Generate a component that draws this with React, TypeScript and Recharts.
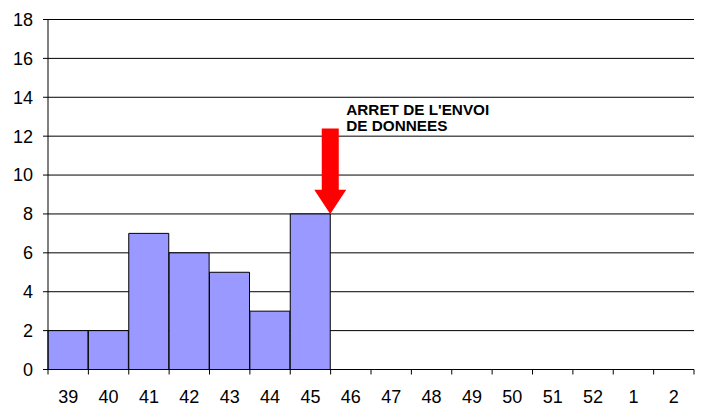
import React from 'react';
import { BarChart, Bar, XAxis, YAxis, CartesianGrid, LabelList } from 'recharts';

const weeks = ['39', '40', '41', '42', '43', '44', '45', '46', '47', '48', '49', '50', '51', '52', '1', '2'];
const counts = [2, 2, 7, 6, 5, 3, 8, 0, 0, 0, 0, 0, 0, 0, 0, 0];
const yTicks = [0, 2, 4, 6, 8, 10, 12, 14, 16, 18];
const annotationLines = ["ARRET DE L'ENVOI", 'DE DONNEES'];
const arrowWeek = '45';
const arrowTopValue = 12.4;
const arrowHeadValue = 9.25;

const data = weeks.map((w, i) => ({ week: w, count: counts[i] }));

const FONT = '"Liberation Sans", Arial, sans-serif';
const CHART_W = 702;
const CHART_H = 408;
const Y_AXIS_W = 48;
const MARGIN_RIGHT = 8;
const X_TICK_SIZE = 5;
const X_TICK_MARGIN = 16;
const BAND = (CHART_W - Y_AXIS_W - MARGIN_RIGHT) / weeks.length;

const ArrowLabel = (props: any) => {
  const { x, y, width, height, index } = props;
  if (data[index]?.week !== arrowWeek) return null;
  const value = data[index].count;
  const unit = height / value;
  const cx = x + width;
  const tipY = y;
  const topY = y - (arrowTopValue - value) * unit;
  const headY = y - (arrowHeadValue - value) * unit;
  const shaftHalf = 8.5;
  const headHalf = 16;
  const pts = [
    [cx - shaftHalf, topY],
    [cx + shaftHalf, topY],
    [cx + shaftHalf, headY],
    [cx + headHalf, headY],
    [cx, tipY],
    [cx - headHalf, headY],
    [cx - shaftHalf, headY],
  ]
    .map((p) => p.join(','))
    .join(' ');
  return (
    <g>
      <polygon points={pts} fill="#FF0000" stroke="none" />
      {annotationLines.map((t, i) => (
        <text
          key={i}
          x={cx + 16}
          y={topY - 13 + i * 16}
          fontSize={15.3}
          fontWeight="bold"
          fontFamily={FONT}
          fill="#000"
        >
          {t}
        </text>
      ))}
    </g>
  );
};

const WeekTick = (props: any) => {
  const { x, y, payload, index } = props;
  const axisY = y - X_TICK_SIZE - X_TICK_MARGIN;
  const left = x - BAND / 2;
  const right = x + BAND / 2;
  return (
    <g>
      <line x1={left} x2={left} y1={axisY} y2={axisY + X_TICK_SIZE} stroke="#000" />
      {index === weeks.length - 1 && (
        <line x1={right} x2={right} y1={axisY} y2={axisY + X_TICK_SIZE} stroke="#000" />
      )}
      <text x={x} y={y} dy="0.71em" textAnchor="middle" fontSize={18} fontFamily={FONT} fill="#000">
        {payload.value}
      </text>
    </g>
  );
};

export default function App() {
  return (
    <div style={{ position: 'absolute', left: 0, top: 0, background: '#fff' }}>
      <BarChart
        width={CHART_W}
        height={CHART_H}
        data={data}
        margin={{ top: 19.5, right: MARGIN_RIGHT, left: 0, bottom: 0 }}
        barCategoryGap={0}
        barGap={0}
      >
        <CartesianGrid vertical={false} stroke="#000" strokeWidth={1} />
        <XAxis
          dataKey="week"
          height={38.5}
          axisLine={{ stroke: '#000' }}
          tickLine={false}
          tickSize={X_TICK_SIZE}
          tickMargin={X_TICK_MARGIN}
          interval={0}
          tick={WeekTick}
        />
        <YAxis
          width={Y_AXIS_W}
          domain={[0, 18]}
          ticks={yTicks}
          interval={0}
          axisLine={{ stroke: '#000' }}
          tickLine={{ stroke: '#000' }}
          tickSize={5}
          tickMargin={10}
          tick={{ fill: '#000', fontSize: 18, fontFamily: FONT }}
        />
        <Bar dataKey="count" fill="#9999FF" stroke="#000" strokeWidth={1} isAnimationActive={false}>
          <LabelList dataKey="count" content={ArrowLabel} />
        </Bar>
      </BarChart>
    </div>
  );
}
